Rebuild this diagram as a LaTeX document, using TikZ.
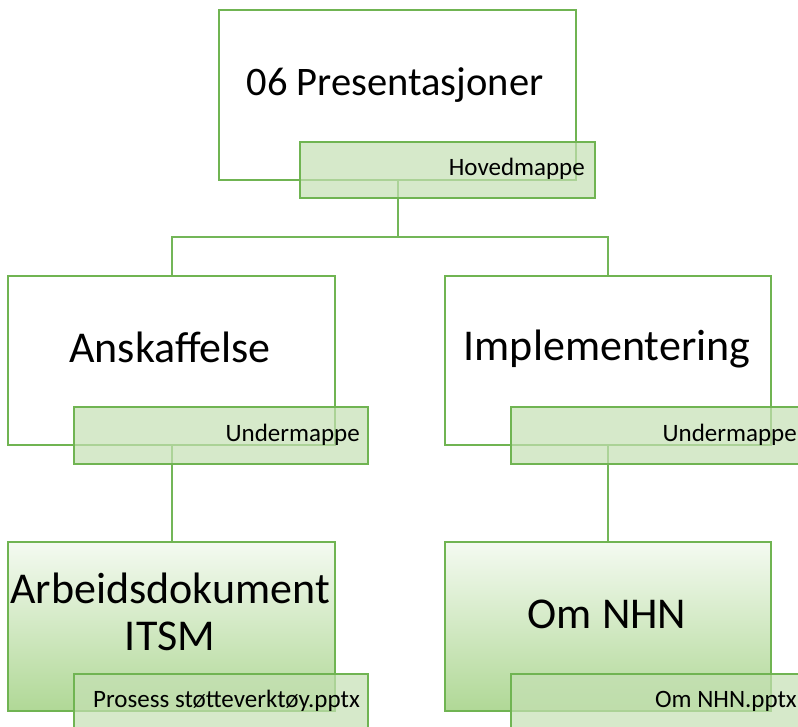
\documentclass[tikz,border=0pt]{standalone}
\usepackage{fontspec}
\setmainfont{Carlito}
\definecolor{edgegreen}{RGB}{112,180,82}
\definecolor{linkgreen}{RGB}{115,182,88}
\definecolor{tagfill}{RGB}{197,224,180}
\definecolor{leaftop}{RGB}{244,250,241}
\definecolor{leafbottom}{RGB}{176,216,150}
\tikzset{
  folder/.style={rectangle, draw=edgegreen, line width=1.5pt, fill=white, inner sep=0pt},
  leaf/.style={rectangle, draw=edgegreen, line width=1.5pt, top color=leaftop, bottom color=leafbottom, inner sep=0pt},
  tag/.style={rectangle, draw=edgegreen, line width=1.5pt, fill=tagfill, fill opacity=0.7, draw opacity=1, inner sep=0pt,
    minimum width=294pt, minimum height=57pt},
  toptext/.style={font=\fontsize{40.5}{47}\selectfont, inner sep=0pt, align=center},
  bigtext/.style={font=\fontsize{44}{47}\selectfont, inner sep=0pt, align=center},
  tagtext/.style={font=\fontsize{25}{28}\selectfont, inner sep=0pt, anchor=base east},
  conn/.style={draw=linkgreen, line width=2pt},
}
\begin{document}
\begin{tikzpicture}[x=1pt, y=-1pt]
  \useasboundingbox (0,0) rectangle (798,726);
  \clip (0,0) rectangle (798,726);

  % folder boxes
  \node[folder, minimum width=357pt, minimum height=170pt] (top) at (397.5,95) {};
  \node[folder, minimum width=327pt, minimum height=169pt] (left) at (171.5,360.5) {};
  \node[folder, minimum width=326pt, minimum height=169pt] (right) at (608,360.5) {};
  \node[leaf, minimum width=327pt, minimum height=169pt] (bl) at (171.5,626.5) {};
  \node[leaf, minimum width=326pt, minimum height=169pt] (br) at (608,626.5) {};

  % tree connectors
  \draw[conn] (top.south) -- ++(0,56) coordinate (fork) -| (left.north);
  \draw[conn] (fork) -| (right.north);
  \draw[conn] (left.south) -- (bl.north);
  \draw[conn] (right.south) -- (br.north);

  % titles
  \node[toptext, anchor=base] (ttop) at (395,95) {06 Presentasjoner};
  \node[bigtext, anchor=base] (tleft) at (170,362) {Anskaffelse};
  \node[bigtext, anchor=base] (tright) at (607,360) {Implementering};
  \node[bigtext, anchor=base] (tbl) at (170,650) {Arbeidsdokument\\ITSM};
  \node[bigtext, anchor=base] (tbr) at (607,628) {Om NHN};

  % translucent tags
  \node[tag, minimum width=295pt, minimum height=56pt] (gtop) at (447.5,170) {};
  \node[tag] (gleft) at (221,435.5) {};
  \node[tag] (gright) at (658,435.5) {};
  \node[tag] (gbl) at (221,702.5) {};
  \node[tag] (gbr) at (658,702.5) {};

  \node[tagtext] (ltop) at (585,175.5) {Hovedmappe};
  \node[tagtext] (lleft) at (360,441.5) {Undermappe};
  \node[tagtext] (lright) at (797,441.5) {Undermappe};
  \node[tagtext] (lbl) at (360,707) {Prosess støtteverktøy.pptx};
  \node[tagtext] (lbr) at (797,707) {Om NHN.pptx};
\end{tikzpicture}
\end{document}
